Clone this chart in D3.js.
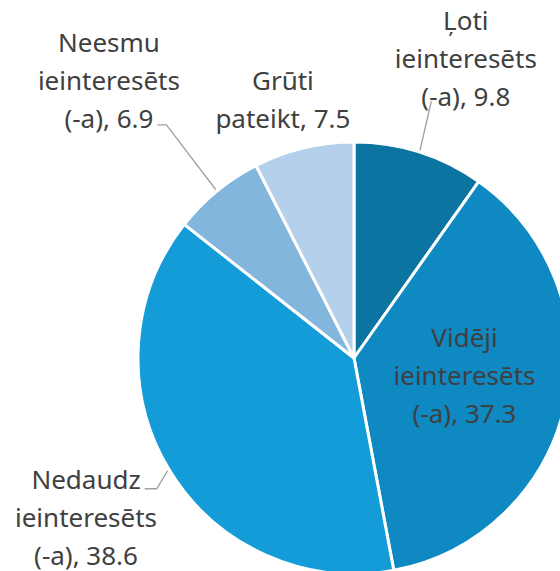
<!DOCTYPE html>
<html>
<head>
<meta charset="utf-8">
<script src="https://cdn.jsdelivr.net/npm/d3@7"></script>
<style>
  body { margin: 0; background: #fff; }
  svg { display: block; }
</style>
</head>
<body>
<div id="chart"></div>
<script>
var width = 560, height = 571;

// data
var categories = ["Ļoti ieinteresēts (-a)", "Vidēji ieinteresēts (-a)", "Nedaudz ieinteresēts (-a)",
                  "Neesmu ieinteresēts (-a)", "Grūti pateikt"];
var values = [9.8, 37.3, 38.6, 6.9, 7.5];
var labelLines = [
  ["Ļoti", "ieinteresēts", "(-a), 9.8"],
  ["Vidēji", "ieinteresēts", "(-a), 37.3"],
  ["Nedaudz", "ieinteresēts", "(-a), 38.6"],
  ["Neesmu", "ieinteresēts", "(-a), 6.9"],
  ["Grūti", "pateikt, 7.5"]
];

var colors = ["#0b74a0", "#0e89c2", "#139cd8", "#83b6dd", "#b5d0ea"];

// label placement: radius from centre and angle nudge (degrees), leader style
var labelLayout = [
  {r: 319, da: 2.9, leader: "below"},
  {r: 112, da: -3.1, leader: null},
  {r: 312, da: 0.4, leader: "first"},
  {r: 370, da: -2.1, leader: "last"},
  {r: 268, da: -1.9, leader: null}
];

var cx = 354, cy = 358, radius = 216;
var fontSize = 26, lineH = 38;

var svg = d3.select("#chart").append("svg")
  .attr("width", width)
  .attr("height", height);

var g = svg.append("g").attr("transform", "translate(" + cx + "," + cy + ")");

var data = categories.map(function(c, i) { return {name: c, value: values[i], i: i}; });

var pie = d3.pie().sort(null).value(function(d) { return d.value; });
var arc = d3.arc().innerRadius(0).outerRadius(radius);
var arcs = pie(data);

g.selectAll("path.slice")
  .data(arcs)
  .enter().append("path")
  .attr("class", "slice")
  .attr("d", arc)
  .attr("fill", function(d) { return colors[d.data.i]; })
  .attr("stroke", "#fff")
  .attr("stroke-width", 3)
  .attr("stroke-linejoin", "round");

function polar(angle, r) {
  return [Math.sin(angle) * r, -Math.cos(angle) * r];
}

arcs.forEach(function(d) {
  var i = d.data.i;
  var lay = labelLayout[i];
  var mid = (d.startAngle + d.endAngle) / 2;
  var p = polar(mid + lay.da * Math.PI / 180, lay.r);
  var lines = labelLines[i];
  var n = lines.length;

  var text = g.append("text")
    .attr("text-anchor", "middle")
    .style("font-family", "'Noto Sans', sans-serif")
    .style("font-size", fontSize + "px")
    .style("fill", "#404040");

  var tspans = lines.map(function(l, k) {
    return text.append("tspan")
      .attr("x", p[0])
      .attr("y", p[1] + (k - (n - 1) / 2) * lineH + 9)
      .text(l);
  });

  if (!lay.leader) return;
  var end = polar(mid, radius + 2);
  var pts;
  if (lay.leader === "last") {
    var t = tspans[n - 1];
    var w = t.node().getComputedTextLength();
    var y = +t.attr("y") - 3;
    var x0 = p[0] + w / 2 + 4;
    pts = [[x0, y], [x0 + 9, y], end];
  } else if (lay.leader === "first") {
    var t = tspans[0];
    var w = t.node().getComputedTextLength();
    var y = +t.attr("y");
    var x0 = p[0] + w / 2 + 4;
    pts = [[x0, y], [x0 + 12, y], end];
  } else {
    var t = tspans[n - 1];
    var w = t.node().getComputedTextLength();
    var y = +t.attr("y") - 5;
    var x0 = p[0] - w / 2 + 10;
    pts = [[x0, y], end];
  }
  g.append("path")
    .attr("d", d3.line()(pts))
    .attr("fill", "none")
    .attr("stroke", "#a0a0a0")
    .attr("stroke-width", 1.3);
});
</script>
</body>
</html>
